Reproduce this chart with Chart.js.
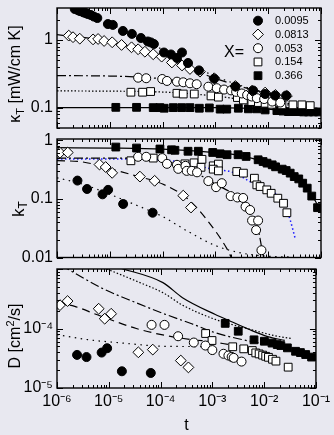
<!DOCTYPE html>
<html>
<head>
<meta charset="utf-8">
<script src="https://cdn.jsdelivr.net/npm/chart.js@4.4.0/dist/chart.umd.min.js"></script>
<style>
  html, body { margin: 0; padding: 0; background: #e8e8f0; }
  #wrap { position: relative; width: 334px; height: 435px; overflow: hidden; }
  canvas { position: absolute; left: 0; }
</style>
</head>
<body>
<div id="wrap">
  <canvas id="kappaChart" width="334" height="170" style="top:-20px"></canvas>
  <canvas id="ktChart" width="334" height="170" style="top:110px"></canvas>
  <canvas id="dChart" width="334" height="195" style="top:240px"></canvas>
</div>
<script>
/* series: X = 0.0095, 0.0813, 0.053, 0.154, 0.366 */
const seriesLabels = ['0.0095', '0.0813', '0.053', '0.154', '0.366'];

/* top panel: kappa_T [mW/cm K] */
const kapT0095 = [2.17e-6, 2.47e-6, 2.70e-6, 2.94e-6, 3.21e-6, 3.51e-6, 3.83e-6, 4.37e-6, 4.98e-6, 5.8e-6, 9.2e-6, 1.14e-5, 1.77e-5, 2.62e-5, 3.88e-5, 5.26e-5, 6.0e-5, 6.84e-5, 1.06e-4, 1.44e-4, 1.87e-4, 2.33e-4, 3.03e-4, 4.89e-4, 9.5e-4, 2.39e-3, 5.18e-3, 8.75e-3, 1.35e-2, 2.19e-2];
const kap0095 = [2.87, 2.77, 2.68, 2.64, 2.55, 2.50, 2.42, 2.34, 2.22, 2.11, 1.72, 1.67, 1.36, 1.23, 1.07, 0.95, 0.92, 0.873, 0.653, 0.611, 0.542, 0.653, 0.457, 0.355, 0.268, 0.205, 0.179, 0.159, 0.151, 0.151];
const kapT0813 = [1.67e-6, 2.01e-6, 2.70e-6, 4.82e-6, 6.0e-6, 7.8e-6, 1.11e-5, 1.67e-5, 2.58e-5, 3.44e-5, 4.62e-5, 6.64e-5, 9.6e-5, 1.5e-4, 2.33e-4, 3.3e-4, 5.1e-4, 9.5e-4, 2.39e-3, 4.95e-3, 8.75e-3, 1.37e-2, 2.26e-2];
const kap0813 = [1.16, 1.10, 1.045, 1.02, 1.035, 0.966, 0.925, 0.844, 0.78, 0.729, 0.671, 0.615, 0.567, 0.465, 0.42, 0.373, 0.34, 0.272, 0.209, 0.178, 0.167, 0.154, 0.149];
const kapT053 = [3.44e-5, 4.89e-5, 9.84e-5, 1.21e-4, 1.87e-4, 2.46e-4, 3.3e-4, 4.42e-4, 7.35e-4, 1.06e-3, 1.46e-3, 1.98e-3, 2.47e-3, 3.16e-3, 3.99e-3, 4.86e-3, 6.09e-3, 8.38e-3, 1.19e-2, 1.69e-2];
const kap053 = [0.277, 0.272, 0.265, 0.248, 0.242, 0.237, 0.229, 0.222, 0.204, 0.194, 0.185, 0.180, 0.171, 0.162, 0.154, 0.146, 0.138, 0.134, 0.123, 0.119];
const kapT154 = [2.51e-5, 4.18e-5, 5.93e-5, 1.87e-4, 2.46e-4, 3.98e-4, 8.26e-4, 1.14e-3, 2.61e-3, 3.39e-3, 4.9e-3, 6.53e-3, 8.75e-3, 1.17e-2, 1.82e-2, 2.94e-2, 4.36e-2, 6.25e-2];
const kap154 = [0.169, 0.169, 0.173, 0.163, 0.159, 0.159, 0.149, 0.143, 0.141, 0.130, 0.123, 0.119, 0.116, 0.112, 0.110, 0.110, 0.110, 0.107];
const kapT366 = [1.30e-5, 3.21e-5, 6.64e-5, 8.9e-5, 1.07e-4, 1.59e-4, 2.30e-4, 3.30e-4, 4.96e-4, 7.67e-4, 1.23e-3, 1.64e-3, 2.72e-3, 4.22e-3, 6.09e-3, 8.75e-3, 1.46e-2, 1.90e-2, 2.42e-2, 3.01e-2, 3.75e-2, 4.67e-2, 5.81e-2, 7.23e-2, 9.0e-2];
const kap366 = [0.101, 0.101, 0.100, 0.100, 0.098, 0.100, 0.100, 0.100, 0.098, 0.099, 0.095, 0.095, 0.098, 0.096, 0.096, 0.0925, 0.0903, 0.089, 0.0873, 0.0873, 0.0873, 0.0864, 0.0864, 0.0864, 0.0864];

/* top panel fit curves */
const kapFitT0095 = [1.5e-6, 1e-5, 1e-4, 1e-3, 1e-2, 3e-2];
const kapFit0095 = [3.2, 1.75, 0.72, 0.29, 0.165, 0.148];
const kapFitT0813 = [1e-6, 1e-5, 1e-4, 1e-3, 1e-2, 3e-2];
const kapFit0813 = [1.2, 0.95, 0.56, 0.27, 0.162, 0.145];
const kapFitT053 = [1e-6, 1e-5, 1e-4, 1e-3, 5e-3, 1.5e-2, 3e-2];
const kapFit053 = [0.297, 0.293, 0.266, 0.196, 0.146, 0.122, 0.112];
const kapFitT154 = [1e-6, 1e-4, 1e-3, 1e-2, 3e-2];
const kapFit154 = [0.177, 0.17, 0.148, 0.117, 0.108];
const kapFitT366 = [1e-6, 1e-3, 1e-2, 3e-2, 1e-1];
const kapFit366 = [0.1, 0.1, 0.095, 0.089, 0.086];

/* middle panel: k_T */
const ktT0095 = [2.44e-6, 3.71e-6, 7.28e-6, 9.29e-6, 1.79e-5, 6.47e-5];
const kt0095 = [0.206, 0.148, 0.120, 0.143, 0.082, 0.0582];
const ktT0813 = [1.14e-6, 1.60e-6, 6.38e-6, 8.34e-6, 1.11e-5, 3.72e-5, 7.07e-5, 2.46e-4, 3.45e-4];
const kt0813 = [0.615, 0.622, 0.387, 0.351, 0.279, 0.241, 0.204, 0.114, 0.0715];
const ktT053 = [3.44e-5, 4.89e-5, 9.84e-5, 1.21e-4, 1.87e-4, 1.98e-4, 2.71e-4, 2.86e-4, 3.56e-4, 4.49e-4, 7.35e-4, 1.03e-3, 1.32e-3, 1.95e-3, 2.61e-3, 3.35e-3, 3.73e-3, 4.54e-3, 4.95e-3, 6.44e-3, 5.9e-3, 7.45e-3];
const kt053 = [0.525, 0.525, 0.499, 0.398, 0.383, 0.327, 0.368, 0.302, 0.302, 0.285, 0.202, 0.159, 0.186, 0.112, 0.106, 0.104, 0.0738, 0.0648, 0.0428, 0.0428, 0.0294, 0.0133];
const ktT154 = [2.51e-5, 6.64e-5, 2.65e-4, 3.94e-4, 5.34e-4, 5.57e-4, 9.1e-4, 1.14e-3, 9.1e-4, 1.14e-3, 2.54e-3, 3.39e-3, 5.48e-3, 6.09e-3, 7.04e-3, 9.4e-3, 1.14e-2, 1.52e-2, 1.95e-2, 2.26e-2];
const kt154 = [0.449, 0.499, 0.398, 0.414, 0.347, 0.475, 0.368, 0.394, 0.323, 0.302, 0.294, 0.276, 0.226, 0.174, 0.163, 0.143, 0.125, 0.103, 0.0844, 0.0582];
const ktT366 = [1.30e-5, 3.21e-5, 8.9e-5, 1.48e-4, 1.71e-4, 3.03e-4, 4.75e-4, 8.9e-4, 1.23e-3, 1.66e-3, 2.69e-3, 3.82e-3, 6.45e-3, 8.0e-3, 9.5e-3, 1.19e-2, 1.38e-2, 1.84e-2, 2.19e-2, 2.61e-2, 3.11e-2, 3.79e-2, 4.5e-2, 5.48e-2, 6.68e-2, 8.6e-2];
const kt366 = [0.77, 0.741, 0.713, 0.692, 0.679, 0.653, 0.653, 0.622, 0.591, 0.569, 0.569, 0.532, 0.467, 0.436, 0.409, 0.383, 0.354, 0.323, 0.306, 0.276, 0.241, 0.220, 0.186, 0.153, 0.112, 0.071];

/* middle panel fit curves */
const ktFitT0095 = [1e-6, 3e-6, 1e-5, 3e-5, 1e-4, 3e-4, 1e-3, 3e-3, 1e-2, 3e-2];
const ktFit0095 = [0.23, 0.18, 0.12, 0.08, 0.05, 0.028, 0.016, 0.012, 0.0105, 0.0102];
const ktFitT0813 = [1e-6, 3e-6, 1e-5, 3e-5, 1e-4, 3e-4, 6.9e-4, 1.64e-3, 2e-3];
const ktFit0813 = [0.45, 0.43, 0.33, 0.25, 0.18, 0.1, 0.044, 0.0143, 0.01];
const ktFitT053 = [1e-6, 1e-5, 5e-5, 1e-4, 3e-4, 1e-3, 3e-3, 5e-3, 6.5e-3, 7.5e-3, 8.2e-3];
const ktFit053 = [0.5, 0.5, 0.49, 0.46, 0.33, 0.18, 0.1, 0.06, 0.03, 0.015, 0.01];
const ktFitT154 = [1e-6, 1e-5, 1e-4, 2.65e-4, 9e-4, 2.2e-3, 4.5e-3, 9.4e-3, 1.35e-2, 2.1e-2, 2.61e-2, 3.24e-2];
const ktFit154 = [0.48, 0.48, 0.466, 0.41, 0.323, 0.283, 0.198, 0.143, 0.125, 0.0738, 0.0436, 0.0212];
const ktFitT366 = [1e-6, 1e-5, 1e-4, 1e-3, 3e-3, 1e-2, 2e-2, 3e-2, 5e-2, 7e-2, 1e-1];
const ktFit366 = [0.75, 0.74, 0.71, 0.62, 0.55, 0.41, 0.32, 0.25, 0.17, 0.11, 0.06];

/* bottom panel: D [cm^2/s] */
const dT0095 = [2.44e-6, 3.71e-6, 7.28e-6, 9.29e-6, 1.79e-5, 6.47e-5];
const d0095 = [3.6e-5, 3.31e-5, 3.94e-5, 4.66e-5, 1.91e-5, 1.79e-5];
const dT0813 = [1.14e-6, 1.60e-6, 6.38e-6, 8.34e-6, 1.11e-5, 3.72e-5, 7.07e-5, 2.46e-4, 3.45e-4];
const d0813 = [2.47e-4, 2.89e-4, 2.15e-4, 1.46e-4, 1.77e-4, 3.98e-5, 4.42e-5, 2.89e-5, 2.22e-5];
const dT053 = [6.70e-5, 1.19e-4, 2.18e-4, 4.38e-4, 7.35e-4, 9.98e-4, 1.64e-3, 2.04e-3, 2.36e-3, 2.58e-3, 3.66e-3];
const d053 = [1.15e-4, 1.15e-4, 7.41e-5, 5.81e-5, 5.17e-5, 4.34e-5, 3.76e-5, 3.51e-5, 3.33e-5, 3.21e-5, 2.78e-5];
const dT154 = [7.41e-4, 9.84e-4, 2.47e-3, 4.04e-3, 5.9e-3, 6.89e-3, 8.0e-3, 9.35e-3, 1.07e-2, 1.21e-2, 1.45e-2, 1.69e-2, 2.91e-2];
const d154 = [8.24e-5, 6.28e-5, 4.93e-5, 4.55e-5, 4.26e-5, 3.89e-5, 3.74e-5, 3.57e-5, 3.41e-5, 3.28e-5, 3.04e-5, 2.83e-5, 2.24e-5];
const dT366 = [1.77e-3, 3.16e-3, 6.37e-3, 1.01e-2, 1.42e-2, 1.79e-2, 2.1e-2, 2.81e-2, 4.04e-2, 5.02e-2, 6.34e-2, 8.24e-2];
const d366 = [1.22e-4, 9.0e-5, 6.45e-5, 6.11e-5, 5.69e-5, 5.37e-5, 5.17e-5, 4.73e-5, 4.14e-5, 3.94e-5, 3.65e-5, 3.31e-5];

/* bottom panel fit curves */
const dFitT0095 = [1e-6, 3.87e-6, 1.67e-5, 1.11e-4, 5.5e-4, 1e-3];
const dFit0095 = [7.9e-5, 6.5e-5, 5.74e-5, 5.03e-5, 4.97e-5, 4.9e-5];
const dFitT0813 = [1e-6, 2.2e-6, 6e-6, 3.4e-5, 1.1e-4, 4e-4, 1e-3, 2e-3];
const dFit0813 = [2.7e-4, 2.35e-4, 1.7e-4, 1.0e-4, 7.8e-5, 6.5e-5, 6.0e-5, 5.4e-5];
const dFitT053 = [1.2e-6, 8e-6, 3.4e-5, 1.1e-4, 4e-4, 1.14e-3, 4.9e-3, 1.2e-2, 2.5e-2];
const dFit053 = [1.15e-3, 4.6e-4, 2.7e-4, 1.8e-4, 1.2e-4, 8.5e-5, 6.2e-5, 5.4e-5, 4.9e-5];
const dFitT154 = [8e-6, 4e-5, 1.11e-4, 2.65e-4, 1.14e-3, 4.9e-3, 1.57e-2, 3.25e-2];
const dFit154 = [1.05e-3, 5.9e-4, 4.0e-4, 2.47e-4, 1.42e-4, 9.9e-5, 7.6e-5, 6.8e-5];
const dFitT366 = [1.6e-5, 1.11e-4, 2.65e-4, 1.14e-3, 2.36e-3, 4.9e-3, 1.17e-2, 2.5e-2];
const dFit366 = [1.05e-3, 5.9e-4, 3.3e-4, 1.72e-4, 1.3e-4, 9.8e-5, 7.3e-5, 6.3e-5];

const tDecades = [1e-6, 1e-5, 1e-4, 1e-3, 1e-2, 1e-1];

const FONT = "'Liberation Sans', Arial, sans-serif";
Chart.defaults.font.family = FONT;
Chart.defaults.color = '#000';

const markerStyle = ['circle', 'rectRot', 'circle', 'rect', 'rect'];
const markerRadius = [4.5, 5.4, 4.5, 5.5, 5.5];
const markerFill = ['#000', '#fff', '#fff', '#fff', '#000'];
const fitDash = [[1.5, 4.5], [8, 5], [9, 3, 2, 3], [1.5, 2], []];

const SUP = { '-': '\u207B', '0': '\u2070', '1': '\u00B9', '2': '\u00B2', '3': '\u00B3', '4': '\u2074', '5': '\u2075', '6': '\u2076', '7': '\u2077', '8': '\u2078', '9': '\u2079' };
function pow10Label(v) {
    const e = String(Math.round(Math.log10(v)));
    return '10' + e.split('').map(c => SUP[c]).join('');
}

function pts(ts, vs) {
    return ts.map((t, i) => ({ x: t, y: vs[i] }));
}

function markerSet(i, ts, vs) {
    return {
        label: seriesLabels[i],
        data: pts(ts, vs),
        showLine: false,
        pointStyle: markerStyle[i],
        pointRadius: markerRadius[i],
        pointBackgroundColor: markerFill[i],
        pointBorderColor: '#000',
        pointBorderWidth: 1,
        order: 0,
        isMarker: true
    };
}

function fitSet(i, ts, vs, color) {
    return {
        label: '',
        data: pts(ts, vs),
        showLine: true,
        pointRadius: 0,
        borderColor: color || '#000',
        borderWidth: color ? 1.5 : 1.2,
        borderDash: color ? [1.5, 2.5] : fitDash[i],
        cubicInterpolationMode: 'monotone',
        fill: false,
        order: 1
    };
}

function logSteps(min, max) {
    const out = [];
    for (let e = Math.floor(Math.log10(min)); e <= Math.ceil(Math.log10(max)); e++) {
        for (let m = 1; m < 10; m++) {
            const v = m * Math.pow(10, e);
            if (v >= min * 0.999 && v <= max * 1.001) out.push({ v: v, major: m === 1 });
        }
    }
    return out;
}

/* frame round the plot area, ticks pointing inward on all four sides */
const frameTicks = {
    id: 'frameTicks',
    afterDatasetsDraw(chart) {
        const ctx = chart.ctx, a = chart.chartArea;
        const xs = chart.scales.x, ys = chart.scales.y;
        ctx.save();
        ctx.strokeStyle = '#000';
        ctx.lineWidth = 1;
        ctx.beginPath();
        logSteps(xs.min, xs.max).forEach(s => {
            const p = Math.round(xs.getPixelForValue(s.v)) + 0.5;
            const len = s.major ? 6 : 3;
            ctx.moveTo(p, a.bottom); ctx.lineTo(p, a.bottom - len);
            ctx.moveTo(p, a.top); ctx.lineTo(p, a.top + len);
        });
        logSteps(ys.min, ys.max).forEach(s => {
            const p = Math.round(ys.getPixelForValue(s.v)) + 0.5;
            const len = s.major ? 6 : 3;
            ctx.moveTo(a.left, p); ctx.lineTo(a.left + len, p);
            ctx.moveTo(a.right, p); ctx.lineTo(a.right - len, p);
        });
        ctx.stroke();
        ctx.lineWidth = 1.4;
        ctx.strokeRect(a.left, a.top, a.right - a.left, a.bottom - a.top);
        ctx.restore();
    }
};

/* rotated y title with subscripts / superscripts */
const richTitle = {
    id: 'richTitle',
    afterDraw(chart, args, opts) {
        if (!opts || !opts.parts) return;
        const ctx = chart.ctx;
        const big = opts.size, small = Math.round(opts.size * 0.68);
        ctx.save();
        ctx.translate(opts.x, opts.y);
        ctx.rotate(-Math.PI / 2);
        ctx.fillStyle = '#000';
        ctx.textBaseline = 'middle';
        ctx.textAlign = 'left';
        let w = 0;
        opts.parts.forEach(p => {
            ctx.font = (p.sub || p.sup ? small : big) + 'px ' + FONT;
            p.w = ctx.measureText(p.t).width;
            w += p.w;
        });
        let x = -w / 2;
        opts.parts.forEach(p => {
            ctx.font = (p.sub || p.sup ? small : big) + 'px ' + FONT;
            ctx.fillText(p.t, x, p.sub ? 5 : (p.sup ? -5 : 0));
            x += p.w;
        });
        ctx.restore();
    }
};

/* legend inside the top panel */
const legendBox = {
    id: 'legendBox',
    afterDraw(chart) {
        const ctx = chart.ctx, a = chart.chartArea;
        const sets = chart.data.datasets.filter(d => d.isMarker);
        ctx.save();
        ctx.fillStyle = '#000';
        ctx.textBaseline = 'middle';
        ctx.textAlign = 'left';
        sets.forEach((d, i) => {
            const y = a.top + 12.7 + 13.75 * i;
            ctx.strokeStyle = '#000';
            ctx.lineWidth = 1;
            ctx.fillStyle = d.pointBackgroundColor;
            Chart.helpers.drawPoint(ctx, { pointStyle: d.pointStyle, radius: d.pointRadius, borderWidth: 1, rotation: 0 }, a.left + 201, y);
            ctx.fillStyle = '#000';
            ctx.font = '11px ' + FONT;
            ctx.fillText(d.label, a.left + 218, y + 0.5);
        });
        ctx.font = '16px ' + FONT;
        ctx.fillText('X=', a.left + 167, a.top + 44.5);
        ctx.restore();
    }
};

function makeScales(yMin, yMax, yTicks, yFmt, showX) {
    return {
        x: {
            type: 'logarithmic',
            min: 1e-6,
            max: 1e-1,
            display: showX,
            afterBuildTicks: s => { s.ticks = tDecades.map(v => ({ value: v })); },
            afterFit: s => { if (showX) s.height = 47; },
            ticks: { callback: v => pow10Label(v), font: { size: 16 }, color: '#000', padding: 4, maxRotation: 0, autoSkip: false },
            grid: { display: false, drawTicks: false },
            border: { display: false },
            title: { display: showX, text: 't', font: { size: 16 }, color: '#000', padding: { top: 0, bottom: 0 } }
        },
        y: {
            type: 'logarithmic',
            min: yMin,
            max: yMax,
            afterBuildTicks: s => { s.ticks = yTicks.map(v => ({ value: v })); },
            afterFit: s => { s.width = 57; },
            ticks: { callback: yFmt, font: { size: 16 }, color: '#000', padding: 4, autoSkip: false },
            grid: { display: false, drawTicks: false },
            border: { display: false }
        }
    };
}

function baseOptions(pad, scales, title) {
    return {
        responsive: false,
        animation: false,
        layout: { padding: pad },
        plugins: { legend: { display: false }, tooltip: { enabled: false }, richTitle: title },
        scales: scales
    };
}

/* kappa_T chart */
window.kappaChart = new Chart(document.getElementById('kappaChart').getContext('2d'), {
    type: 'scatter',
    data: {
        datasets: [
            markerSet(0, kapT0095, kap0095),
            markerSet(1, kapT0813, kap0813),
            markerSet(2, kapT053, kap053),
            markerSet(3, kapT154, kap154),
            markerSet(4, kapT366, kap366),
            fitSet(0, kapFitT0095, kapFit0095),
            fitSet(1, kapFitT0813, kapFit0813),
            fitSet(2, kapFitT053, kapFit053),
            fitSet(3, kapFitT154, kapFit154),
            fitSet(4, kapFitT366, kapFit366)
        ]
    },
    options: baseOptions({ top: 28, bottom: 22, left: 0, right: 13 },
        makeScales(0.05, 2.97, [0.1, 1], v => String(v), false),
        { parts: [{ t: '\u03BA' }, { t: 'T', sub: true }, { t: ' [mW/cm K]' }], x: 15.5, y: 94, size: 16 }),
    plugins: [frameTicks, richTitle, legendBox]
});

/* k_T chart */
window.ktChart = new Chart(document.getElementById('ktChart').getContext('2d'), {
    type: 'scatter',
    data: {
        datasets: [
            markerSet(0, ktT0095, kt0095),
            markerSet(1, ktT0813, kt0813),
            markerSet(2, ktT053, kt053),
            markerSet(3, ktT154, kt154),
            markerSet(4, ktT366, kt366),
            fitSet(0, ktFitT0095, ktFit0095),
            fitSet(1, ktFitT0813, ktFit0813),
            fitSet(2, ktFitT053, ktFit053),
            fitSet(3, ktFitT154, ktFit154, '#1a1aff'),
            fitSet(4, ktFitT366, ktFit366)
        ]
    },
    options: baseOptions({ top: 29, bottom: 22.5, left: 0, right: 13 },
        makeScales(0.01, 1.057, [0.01, 0.1, 1], v => String(v), false),
        { parts: [{ t: 'k' }, { t: 'T', sub: true }], x: 19, y: 99, size: 17 }),
    plugins: [frameTicks, richTitle]
});

/* D chart */
window.dChart = new Chart(document.getElementById('dChart').getContext('2d'), {
    type: 'scatter',
    data: {
        datasets: [
            markerSet(0, dT0095, d0095),
            markerSet(1, dT0813, d0813),
            markerSet(2, dT053, d053),
            markerSet(3, dT154, d154),
            markerSet(4, dT366, d366),
            fitSet(0, dFitT0095, dFit0095),
            fitSet(1, dFitT0813, dFit0813),
            fitSet(2, dFitT053, dFit053),
            fitSet(3, dFitT154, dFit154),
            fitSet(4, dFitT366, dFit366)
        ]
    },
    options: baseOptions({ top: 29, bottom: 0, left: 0, right: 13 },
        makeScales(1e-5, 1e-3, [1e-5, 1e-4], v => pow10Label(v), true),
        { parts: [{ t: 'D [cm' }, { t: '2', sup: true }, { t: '/s]' }], x: 16, y: 96, size: 16 }),
    plugins: [frameTicks, richTitle]
});
</script>
</body>
</html>
